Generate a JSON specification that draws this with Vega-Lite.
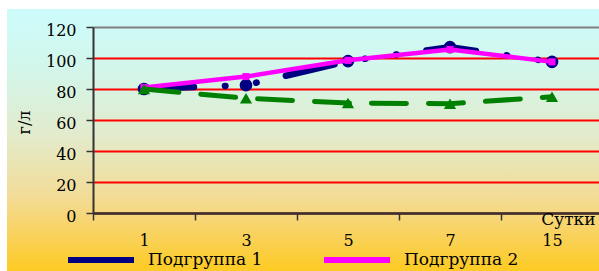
{
  "$schema": "https://vega.github.io/schema/vega-lite/v6.json",
  "width": 592,
  "height": 262,
  "autosize": {"type": "none"},
  "padding": {"left": 7, "top": 9, "right": 0, "bottom": 0},
  "background": "white",
  "view": {
    "stroke": null,
    "fill": {
      "gradient": "linear",
      "x1": 0, "y1": 0, "x2": 0, "y2": 1,
      "stops": [
        {"offset": 0, "color": "#ccfcfc"},
        {"offset": 0.23, "color": "#d3f6ea"},
        {"offset": 0.48, "color": "#e2ebcc"},
        {"offset": 0.71, "color": "#f2dc98"},
        {"offset": 0.86, "color": "#f9d25e"},
        {"offset": 1, "color": "#fdcb22"}
      ]
    }
  },
  "data": {
    "values": [
      {"day": "1", "series": "Подгруппа 1", "value": 80},
      {"day": "3", "series": "Подгруппа 1", "value": 82.5},
      {"day": "5", "series": "Подгруппа 1", "value": 98},
      {"day": "7", "series": "Подгруппа 1", "value": 107},
      {"day": "15", "series": "Подгруппа 1", "value": 97.5},
      {"day": "1", "series": "Подгруппа 2", "value": 81},
      {"day": "3", "series": "Подгруппа 2", "value": 88},
      {"day": "5", "series": "Подгруппа 2", "value": 98.5},
      {"day": "7", "series": "Подгруппа 2", "value": 105.5},
      {"day": "15", "series": "Подгруппа 2", "value": 97.5},
      {"day": "1", "series": "Ряд 3", "value": 80},
      {"day": "3", "series": "Ряд 3", "value": 74},
      {"day": "5", "series": "Ряд 3", "value": 71},
      {"day": "7", "series": "Ряд 3", "value": 70.5},
      {"day": "15", "series": "Ряд 3", "value": 75}
    ]
  },
  "encoding": {
    "x": {
      "field": "day",
      "type": "ordinal",
      "sort": ["1", "3", "5", "7", "15"],
      "scale": {"type": "band", "range": [86, 596], "paddingInner": 0, "paddingOuter": 0},
      "axis": {
        "orient": "bottom",
        "offset": -58,
        "tickBand": "extent",
        "labelAngle": 0,
        "labelFont": "DejaVu Serif",
        "labelFontSize": 16,
        "labelColor": "#000000",
        "labelPadding": 12,
        "tickSize": 7,
        "tickColor": "#333333",
        "tickWidth": 1.5,
        "domainColor": "#333333",
        "domainWidth": 2.5,
        "zindex": 1,
        "title": "Сутки",
        "titleFont": "DejaVu Serif",
        "titleFontSize": 17,
        "titleFontWeight": "normal",
        "titleColor": "#000000",
        "titleX": 588,
        "titleY": 11,
        "titleAlign": "right",
        "titleBaseline": "alphabetic"
      }
    },
    "y": {
      "field": "value",
      "type": "quantitative",
      "scale": {"domain": [0, 120], "range": [204, 18], "nice": false, "zero": true},
      "axis": {
        "orient": "left",
        "offset": -86,
        "values": [0, 20, 40, 60, 80, 100, 120],
        "labelFont": "DejaVu Serif",
        "labelFontSize": 16,
        "labelColor": "#000000",
        "labelPadding": 10,
        "labelOffset": 3,
        "tickSize": 7,
        "tickColor": "#333333",
        "tickWidth": 1.5,
        "domainColor": "#333333",
        "domainWidth": 2,
        "grid": true,
        "gridColor": {"condition": {"test": "datum.value === 120", "value": "#808080"}, "value": "#ff0000"},
        "gridWidth": 2,
        "title": "г/л",
        "titleFont": "DejaVu Serif",
        "titleFontSize": 16,
        "titleFontWeight": "normal",
        "titleColor": "#000000",
        "titleX": -69,
        "titleY": 113,
        "titleAngle": 270,
        "titleAlign": "center",
        "titleBaseline": "middle"
      }
    }
  },
  "layer": [
    {
      "transform": [{"filter": "datum.series === 'Подгруппа 1'"}],
      "mark": {"type": "line", "strokeWidth": 6.5, "strokeCap": "round", "strokeJoin": "round", "strokeDash": [50, 31, 0.5, 31, 0.5, 30]},
      "encoding": {
        "color": {
          "field": "series",
          "type": "nominal",
          "scale": {"domain": ["Подгруппа 1", "Подгруппа 2"], "range": ["#000080", "#ff00ff"]},
          "legend": {
            "orient": "none",
            "legendX": 58,
            "legendY": 215,
            "direction": "horizontal",
            "title": null,
            "padding": 0,
            "symbolType": "stroke",
            "symbolSize": 4356,
            "symbolStrokeWidth": 6,
            "labelFont": "DejaVu Serif",
            "labelFontSize": 17,
            "labelColor": "#000000",
            "labelOffset": 11,
            "columnPadding": 49,
            "labelLimit": 300
          }
        }
      }
    },
    {
      "transform": [{"filter": "datum.series === 'Подгруппа 1'"}],
      "mark": {"type": "point", "shape": "circle", "filled": true, "size": 160, "color": "#000080", "opacity": 1}
    },
    {
      "transform": [{"filter": "datum.series === 'Подгруппа 2'"}],
      "mark": {"type": "line", "strokeWidth": 4.5, "strokeJoin": "round"},
      "encoding": {
        "color": {"field": "series", "type": "nominal"}
      }
    },
    {
      "transform": [{"filter": "datum.series === 'Подгруппа 2'"}],
      "mark": {"type": "point", "shape": "square", "filled": true, "size": 50, "color": "#ff00ff", "opacity": 1}
    },
    {
      "transform": [{"filter": "datum.series === 'Ряд 3'"}],
      "mark": {"type": "line", "strokeWidth": 5, "strokeCap": "round", "strokeDash": [35, 22], "color": "#008000"}
    },
    {
      "transform": [{"filter": "datum.series === 'Ряд 3'"}],
      "mark": {"type": "point", "shape": "triangle-up", "filled": true, "size": 150, "color": "#008000", "opacity": 1}
    }
  ]
}
